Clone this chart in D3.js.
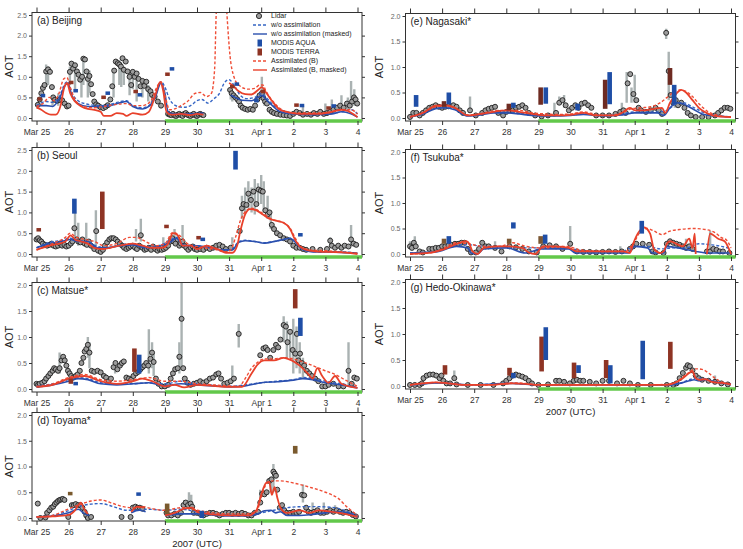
<!DOCTYPE html>
<html>
<head>
<meta charset="utf-8">
<script src="https://cdn.jsdelivr.net/npm/d3@7"></script>
<style>
  body { margin: 0; background: #fff; }
  svg { font-family: "Liberation Sans", Arial, sans-serif; }
</style>
</head>
<body>
<svg id="chart" width="743" height="549"></svg>
<script>
// time is in days since 2007-03-25 00 UTC

const DAY_LABELS = ['Mar 25', '26', '27', '28', '29', '30', '31', 'Apr 1', '2', '3', '4']

// (a) Beijing
const beijingLidar = [[0.04,0.32],[0.1,0.45],[0.15,0.6],[0.2,0.73],[0.25,0.8],[0.3,1.13],[0.36,1.18],[0.42,1.12],[0.48,0.75],[0.52,0.5],[0.57,0.44],[0.65,0.42],[0.72,0.44],[0.8,0.43],[0.88,0.35],[0.95,0.28],[1.0,0.3],[1.04,1.12],[1.09,1.32],[1.14,1.2],[1.2,1.28],[1.26,1.13],[1.31,1.05],[1.36,0.93],[1.42,1.0],[1.46,1.44],[1.51,1.42],[1.56,1.13],[1.6,0.95],[1.65,1.02],[1.7,0.82],[1.75,0.58],[1.8,0.4],[1.86,0.33],[1.92,0.3],[2.0,0.26],[2.08,0.24],[2.15,0.27],[2.22,0.31],[2.3,0.45],[2.36,0.77],[2.42,1.15],[2.47,1.37],[2.53,1.33],[2.58,1.3],[2.63,1.25],[2.68,1.45],[2.72,1.17],[2.78,1.37],[2.84,1.13],[2.9,1.0],[2.95,0.8],[3.0,1.12],[3.06,1.0],[3.12,1.08],[3.18,0.95],[3.24,0.77],[3.3,0.9],[3.36,0.78],[3.42,0.88],[3.48,0.7],[3.55,0.65],[3.6,0.56],[3.68,0.52],[3.78,0.4],[3.88,0.3],
  [4.1,0.1],[4.15,0.08],[4.2,0.07],[4.25,0.1],[4.3,0.06],[4.35,0.05],[4.4,0.08],[4.45,0.1],[4.5,0.07],[4.55,0.05],[4.6,0.1],[4.65,0.12],[4.7,0.08],[4.75,0.06],[4.8,0.05],[4.85,0.08],[4.9,0.1],[4.95,0.06],[5.0,0.05],[5.05,0.08],[5.1,0.1],[5.15,0.08],[5.2,0.07],
  [6.03,0.68],[6.08,0.6],[6.14,0.55],[6.2,0.5],[6.26,0.45],[6.31,0.4],[6.36,0.3],[6.42,0.25],[6.5,0.22],[6.58,0.2],[6.66,0.22],[6.74,0.2],[6.81,0.3],[6.88,0.45],[6.95,0.55],[7.02,0.6],[7.07,0.48],[7.12,0.4],[7.18,0.35],[7.26,0.2],[7.33,0.15],[7.4,0.12],[7.49,0.1],[7.6,0.08],[7.7,0.07],[7.8,0.06],[7.9,0.05],
  [8.0,0.1],[8.1,0.15],[8.2,0.12],[8.3,0.08],[8.43,0.1],[8.55,0.08],[8.64,0.12],[8.75,0.1],[8.84,0.15],[8.95,0.1],[9.05,0.12],[9.15,0.15],[9.25,0.2],[9.36,0.25],[9.46,0.3],[9.57,0.25],[9.67,0.35],[9.76,0.3],[9.83,0.4],[9.89,0.5],[9.94,0.45],[9.99,0.35]]
const beijingLidarErr = [[0.3,0.75,1.3],[0.36,0.8,1.25],[0.5,0.3,0.55],[0.68,0.3,0.6],[1.04,0.8,1.25],[1.2,0.7,1.3],[1.4,0.5,1.0],[1.46,0.8,1.45],[1.6,0.5,1.1],[1.65,0.6,1.15],[2.4,0.5,1.2],[2.58,0.8,1.4],[2.64,0.75,1.35],[2.72,0.8,1.25],[2.9,0.55,1.1],[3.0,0.7,1.15],[3.12,0.4,1.0],[3.3,0.5,0.9],[3.48,0.4,0.8],[3.6,0.3,0.6],[6.05,0.45,0.75],[6.1,0.4,0.65],[7.02,0.45,1.0],[7.1,0.3,0.6],[8.3,0.1,0.3],[9.0,0.12,0.35],[9.2,0.15,0.45],[9.5,0.2,0.55],[9.7,0.2,0.5],[9.8,0.25,0.9],[9.9,0.3,0.7]]
const beijingWo = [[0,0.3],[0.3,0.4],[0.5,0.38],[0.7,0.5],[0.9,0.85],[0.98,0.88],[1.1,0.6],[1.25,0.45],[1.5,0.35],[2.0,0.3],[2.3,0.33],[2.6,0.4],[2.8,0.42],[3.0,0.3],[3.3,0.25],[3.5,0.3],[3.7,0.55],[3.88,0.88],[4.0,0.75],[4.15,0.45],[4.4,0.28],[4.6,0.26],[4.8,0.3],[5.0,0.42],[5.15,0.45],[5.35,0.36],[5.5,0.45],[5.7,0.6],[5.85,0.85],[6.0,0.93],[6.15,0.8],[6.35,0.55],[6.55,0.47],[6.8,0.5],[7.0,0.6],[7.15,0.5],[7.4,0.3],[7.7,0.17],[8.0,0.12],[8.5,0.1],[9.0,0.1],[9.5,0.15],[9.8,0.2],[10,0.1]]
const beijingWoMasked = [[0,0.3],[0.3,0.3],[0.5,0.28],[0.7,0.45],[0.9,0.8],[0.98,0.85],[1.1,0.55],[1.3,0.35],[1.6,0.28],[2.0,0.28],[2.3,0.3],[2.6,0.37],[2.8,0.4],[3.0,0.28],[3.3,0.22],[3.5,0.28],[3.7,0.5],[3.88,0.85],[4.0,0.6],[4.1,0.15],[4.3,0.1],[4.8,0.1],[5.2,0.12],[5.25,null],[6.05,0.55],[6.2,0.5],[6.4,0.43],[6.7,0.42],[6.9,0.5],[7.02,0.55],[7.15,0.45],[7.35,0.3],[7.6,0.15],[8.0,0.1],[8.6,0.08],[9.2,0.1],[9.5,0.15],[9.8,0.1],[10,0.02]]
const beijingAssim = [[0,0.28],[0.2,0.35],[0.4,0.5],[0.55,0.42],[0.7,0.6],[0.85,0.95],[0.95,0.98],[1.05,0.75],[1.2,0.45],[1.45,0.28],[1.8,0.25],[2.1,0.28],[2.5,0.33],[2.8,0.35],[3.0,0.3],[3.3,0.3],[3.55,0.4],[3.75,0.75],[3.88,0.88],[4.0,0.55],[4.15,0.2],[4.3,0.22],[4.5,0.3],[4.7,0.4],[4.95,0.6],[5.1,0.62],[5.3,0.52],[5.45,0.6],[5.55,1.2],[5.6,2.55],[5.75,3.6],[5.85,3.6],[5.93,2.55],[6.03,1.5],[6.15,1.0],[6.3,0.8],[6.6,0.7],[6.8,0.72],[6.95,0.8],[7.05,0.8],[7.15,0.65],[7.35,0.42],[7.6,0.22],[7.9,0.13],[8.5,0.12],[9.0,0.12],[9.5,0.2],[9.8,0.2],[10,0.1]]
const beijingAssimMasked = [[0,0.25],[0.15,0.2],[0.3,0.12],[0.45,0.08],[0.6,0.08],[0.75,0.3],[0.85,0.7],[0.95,0.85],[1.05,0.6],[1.2,0.4],[1.4,0.28],[1.6,0.22],[1.8,0.2],[2.0,0.15],[2.1,0.05],[2.3,0.05],[2.5,0.12],[2.7,0.1],[2.8,0.05],[3.0,0.12],[3.3,0.08],[3.5,0.15],[3.7,0.55],[3.85,0.87],[3.95,0.65],[4.05,0.15],[4.2,0.08],[4.5,0.1],[4.8,0.07],[5.0,0.1],[5.2,0.08],[5.25,null],[6.0,0.85],[6.1,0.8],[6.3,0.65],[6.5,0.58],[6.7,0.57],[6.9,0.68],[7.02,0.75],[7.15,0.62],[7.35,0.4],[7.55,0.22],[7.8,0.15],[8.2,0.1],[8.8,0.1],[9.2,0.15],[9.5,0.2],[9.7,0.17],[9.9,0.08],[10,0.02]]
const beijingTerra = [[0.1,0.42,0.5],[1.08,0.82,0.9],[2.09,0.46,0.54],[3.09,0.6,0.68],[4.08,1.02,1.1],[6.1,0.72,0.8],[7.05,0.6,0.68],[8.1,0.27,0.33],[9.1,0.2,0.26]]
const beijingAqua = [[0.2,0.5,0.58],[1.22,0.62,0.7],[2.22,0.56,0.64],[3.22,0.52,0.58],[4.22,1.15,1.22],[6.24,0.78,0.85],[6.85,0.38,0.45],[8.27,0.26,0.33],[9.26,0.25,0.32]]

// (b) Seoul
const seoulLidar = [[0,0.35],[0.05,0.38],[0.1,0.33],[0.15,0.3],[0.2,0.25],[0.27,0.22],[0.33,0.2],[0.4,0.22],[0.47,0.25],[0.53,0.2],[0.6,0.18],[0.67,0.2],[0.73,0.25],[0.8,0.2],[0.87,0.22],[0.93,0.18],[1.0,0.2],[1.07,0.25],[1.12,0.3],[1.18,0.62],[1.25,0.35],[1.3,0.3],[1.37,0.28],[1.43,0.35],[1.5,0.25],[1.57,0.22],[1.63,0.3],[1.7,0.2],[1.8,0.12],[1.86,0.55],[1.92,0.08],[2.0,0.05],[2.07,0.1],[2.13,0.2],[2.2,0.28],[2.27,0.35],[2.33,0.38],[2.4,0.38],[2.47,0.35],[2.53,0.3],[2.6,0.25],[2.67,0.2],[2.73,0.15],[2.8,0.12],[2.87,0.15],[2.93,0.18],[3.0,0.2],[3.07,0.15],[3.13,0.12],[3.2,0.2],[3.25,0.45],[3.3,0.15],[3.37,0.1],[3.43,0.12],[3.5,0.15],[3.57,0.1],[3.63,0.18],[3.7,0.12],[3.77,0.08],[3.83,0.12],[3.9,0.1],[3.97,0.12],[4.03,0.15],[4.1,0.2],[4.17,0.3],[4.23,0.38],[4.28,0.3],[4.33,0.25],[4.4,0.35],[4.45,0.2],[4.5,0.25],[4.55,0.3],[4.6,0.2],[4.67,0.15],[4.73,0.1],[4.8,0.15],[4.87,0.18],[4.93,0.12],[5.0,0.1],[5.1,0.12],[5.2,0.1],[5.3,0.15],[5.4,0.12],[5.5,0.15],[5.6,0.2],[5.7,0.22],[5.8,0.18],[5.9,0.12],[6.05,0.15],
  [6.33,0.55],[6.4,1.1],[6.45,1.2],[6.54,1.18],[6.6,1.45],[6.68,1.3],[6.76,1.5],[6.85,1.2],[6.92,1.55],[6.99,1.52],[7.05,1.5],[7.13,1.05],[7.2,0.95],[7.26,1.0],[7.33,0.7],[7.4,0.6],[7.49,0.5],[7.59,0.45],[7.7,0.38],[7.8,0.35],[7.9,0.3],[8.0,0.2],[8.1,0.15],[8.2,0.15],[8.3,0.12],[8.4,0.1],[8.6,0.12],[8.84,0.1],[9.05,0.12],[9.15,0.32],[9.2,0.2],[9.3,0.15],[9.4,0.2],[9.5,0.15],[9.6,0.2],[9.72,0.18],[9.8,0.35],[9.88,0.25],[9.96,0.22]]
const seoulLidarErr = [[1.2,0.4,1.0],[1.3,0.2,0.75],[1.55,0.2,0.75],[1.85,0.2,1.05],[3.1,0.3,0.6],[3.25,0.3,0.85],[3.95,0.1,0.4],[4.3,0.3,0.6],[4.55,0.2,0.7],[6.1,0.2,0.4],[6.4,0.85,1.4],[6.5,1.0,1.6],[6.6,1.1,1.75],[6.7,1.0,1.6],[6.8,0.95,1.8],[6.9,1.2,1.7],[7.0,1.2,1.9],[7.08,1.0,1.75],[7.2,0.85,1.4],[7.3,0.6,1.0],[9.15,0.2,0.4],[9.8,0.2,0.7]]
const seoulWo = [[0,0.15],[0.4,0.28],[0.8,0.33],[1.05,0.38],[1.3,0.33],[1.6,0.3],[1.9,0.18],[2.2,0.15],[2.6,0.22],[3.0,0.25],[3.4,0.18],[3.8,0.2],[4.2,0.35],[4.35,0.4],[4.6,0.22],[5.0,0.2],[5.4,0.15],[5.8,0.1],[6.1,0.12],[6.3,0.3],[6.5,0.33],[6.8,0.3],[7.1,0.27],[7.4,0.3],[7.7,0.35],[7.9,0.38],[8.1,0.25],[8.3,0.1],[8.6,0.06],[9.0,0.05],[9.5,0.05],[10,0.02]]
const seoulWoMasked = [[0,0.15],[0.4,0.25],[0.8,0.3],[1.05,0.35],[1.3,0.3],[1.6,0.3],[1.9,0.15],[2.2,0.15],[2.6,0.2],[3.0,0.22],[3.4,0.15],[3.8,0.18],[4.2,0.3],[4.35,0.38],[4.6,0.2],[5.0,0.2],[5.4,0.15],[5.8,0.1],[6.1,0.1],[6.3,0.28],[6.5,0.32],[6.8,0.3],[7.1,0.26],[7.4,0.3],[7.7,0.35],[7.9,0.38],[8.1,0.25],[8.3,0.1],[8.6,0.05],[9.0,0.05],[9.5,0.04],[10,0.02]]
const seoulAssim = [[0,0.1],[0.5,0.25],[0.9,0.4],[1.05,0.5],[1.2,0.42],[1.5,0.35],[1.8,0.3],[2.1,0.2],[2.5,0.25],[2.9,0.4],[3.1,0.4],[3.4,0.3],[3.7,0.2],[4.0,0.25],[4.25,0.52],[4.45,0.45],[4.7,0.25],[5.0,0.18],[5.5,0.12],[5.9,0.05],[6.05,0.1],[6.2,0.4],[6.35,0.8],[6.55,1.05],[6.7,1.1],[6.9,1.05],[7.1,0.95],[7.3,0.85],[7.5,0.8],[7.7,0.75],[7.9,0.62],[8.05,0.4],[8.2,0.2],[8.5,0.1],[9.0,0.08],[9.5,0.05],[10,0.02]]
const seoulAssimMasked = [[0,0.1],[0.4,0.2],[0.9,0.3],[1.06,0.45],[1.2,0.35],[1.4,0.3],[1.6,0.25],[1.8,0.15],[2.1,0.12],[2.3,0.15],[2.7,0.22],[3.0,0.25],[3.3,0.2],[3.6,0.15],[3.9,0.15],[4.1,0.25],[4.25,0.5],[4.4,0.45],[4.55,0.2],[4.8,0.2],[5.0,0.12],[5.3,0.2],[5.5,0.15],[5.7,0.1],[5.9,0.03],[6.1,0.03],[6.25,0.2],[6.35,0.55],[6.5,0.95],[6.65,1.08],[6.85,1.05],[7.05,0.95],[7.25,0.85],[7.45,0.8],[7.7,0.75],[7.9,0.6],[8.05,0.35],[8.2,0.18],[8.5,0.08],[9.0,0.05],[9.5,0.04],[10,0.0]]
const seoulTerra = [[0.07,0.54,0.6],[2.05,0.6,1.5],[4.05,0.62,0.68],[5.05,0.35,0.41]]
const seoulAqua = [[1.18,0.97,1.33],[5.18,0.31,0.37],[6.2,2.03,2.48],[8.22,0.42,0.47]]

// (c) Matsue
const matsueLidar = [[0,0.1],[0.05,0.08],[0.1,0.1],[0.18,0.12],[0.25,0.15],[0.3,0.2],[0.37,0.25],[0.43,0.3],[0.5,0.35],[0.55,0.4],[0.6,0.38],[0.67,0.35],[0.72,0.4],[0.78,0.55],[0.83,0.62],[0.88,0.55],[0.93,0.45],[0.98,0.35],[1.03,0.3],[1.08,0.25],[1.15,0.22],[1.22,0.25],[1.28,0.28],[1.35,0.35],[1.4,0.5],[1.46,0.6],[1.5,0.72],[1.55,0.77],[1.6,0.85],[1.65,0.7],[1.72,0.35],[1.8,0.33],[1.9,0.35],[2.0,0.32],[2.1,0.25],[2.17,0.22],[2.25,0.15],[2.32,0.2],[2.4,0.42],[2.46,0.5],[2.52,0.38],[2.6,0.45],[2.66,0.5],[2.72,0.53],[2.8,0.22],[2.88,0.2],[2.95,0.18],[3.02,0.25],[3.1,0.3],[3.17,0.33],[3.24,0.38],[3.3,0.42],[3.36,0.45],[3.42,0.5],[3.48,0.45],[3.55,0.58],[3.6,0.7],[3.65,0.52],[3.72,0.2],[3.8,0.1],[3.9,0.05],[4.0,0.05],[4.1,0.08],[4.18,0.2],[4.25,0.3],[4.32,0.38],[4.4,0.4],[4.45,0.62],[4.52,1.35],[4.57,0.4],[4.62,0.2],[4.7,0.12],[4.8,0.08],[4.9,0.1],[5.0,0.12],[5.1,0.15],[5.2,0.12],[5.3,0.15],[5.4,0.2],[5.5,0.22],[5.6,0.28],[5.67,0.3],[5.75,0.2],[5.85,0.1],[5.95,0.12],[6.05,0.15],[6.15,0.2],[6.3,1.06],
  [6.97,0.65],[7.07,0.78],[7.14,0.8],[7.2,0.75],[7.28,0.6],[7.38,0.75],[7.46,0.85],[7.53,0.8],[7.6,0.95],[7.7,1.23],[7.77,1.2],[7.82,0.9],[7.9,1.1],[7.98,0.75],[8.06,0.68],[8.11,1.06],[8.16,0.55],[8.21,0.68],[8.27,0.5],[8.34,0.45],[8.42,0.35],[8.5,0.3],[8.58,0.25],[8.68,0.2],[8.78,0.15],[8.9,0.05],[9.0,0.05],[9.1,0.08],[9.25,0.1],[9.41,0.05],[9.56,0.05],[9.72,0.35],[9.82,0.1],[9.9,0.22],[9.98,0.2]]
const matsueLidarErr = [[0.72,0.3,0.7],[1.6,0.6,1.0],[1.65,0.4,0.9],[2.45,0.3,0.55],[3.5,0.3,1.15],[3.6,0.4,0.9],[3.65,0.25,0.7],[4.45,0.3,0.9],[4.52,0.4,2.05],[6.1,0.2,0.45],[6.3,0.8,1.25],[7.7,0.9,1.4],[7.8,0.6,1.3],[7.9,0.6,1.1],[8.0,0.3,1.35],[8.1,0.4,1.2],[8.2,0.3,0.9],[8.3,0.2,0.6],[9.72,0.05,0.9]]
const matsueWo = [[0,0.05],[0.5,0.1],[1.0,0.18],[1.3,0.22],[1.6,0.2],[2.0,0.12],[2.5,0.1],[3.0,0.1],[3.5,0.12],[4.0,0.1],[4.5,0.15],[5.0,0.1],[5.5,0.07],[6.0,0.05],[6.5,0.08],[7.0,0.12],[7.5,0.15],[8.0,0.18],[8.3,0.22],[8.6,0.2],[9.0,0.15],[9.5,0.1],[10,0.03]]
const matsueWoMasked = [[0,0.04],[0.5,0.08],[1.0,0.15],[1.3,0.2],[1.6,0.18],[2.0,0.1],[2.5,0.08],[3.0,0.1],[3.5,0.12],[4.0,0.06],[4.5,0.1],[5.0,0.08],[5.5,0.06],[6.0,0.04],[6.5,0.06],[7.0,0.12],[7.5,0.14],[8.0,0.17],[8.3,0.2],[8.6,0.18],[9.0,0.12],[9.5,0.08],[10,0.02]]
const matsueAssim = [[0,0.05],[0.5,0.1],[1.0,0.22],[1.5,0.28],[2.0,0.18],[2.5,0.15],[3.0,0.18],[3.5,0.22],[4.0,0.15],[4.5,0.15],[5.0,0.1],[5.5,0.08],[6.0,0.06],[6.3,0.05],[6.5,0.2],[6.7,0.4],[6.9,0.52],[7.1,0.58],[7.4,0.58],[7.7,0.6],[8.0,0.58],[8.3,0.52],[8.6,0.45],[9.0,0.35],[9.3,0.28],[9.6,0.18],[10,0.05]]
const matsueAssimMasked = [[0,0.04],[0.5,0.08],[0.8,0.15],[1.0,0.2],[1.5,0.25],[2.0,0.15],[2.5,0.1],[3.0,0.15],[3.3,0.2],[3.6,0.15],[4.0,0.05],[4.3,0.08],[4.6,0.03],[5.0,0.08],[5.5,0.06],[6.0,0.04],[6.4,0.04],[6.7,0.3],[6.9,0.48],[7.1,0.55],[7.4,0.55],[7.7,0.6],[7.95,0.55],[8.2,0.45],[8.45,0.3],[8.6,0.2],[8.75,0.4],[8.9,0.25],[9.1,0.12],[9.3,0.25],[9.5,0.1],[10,0.02]]
const matsueTerra = [[1.07,0.1,0.2],[3.05,0.33,0.78],[8.06,1.55,1.92]]
const matsueAqua = [[1.22,0.07,0.13],[3.2,0.3,0.66],[8.22,1.02,1.37]]

// (d) Toyama
const toyamaLidar = [[0.04,0.28],[0.12,0.0],[0.28,0.01],[0.33,0.1],[0.4,0.15],[0.46,0.2],[0.52,0.22],[0.57,0.27],[0.62,0.3],[0.67,0.33],[0.72,0.35],[0.77,0.36],[0.82,0.37],[0.87,0.35],[0.99,0.02],[1.1,0.25],[1.16,0.25],[1.22,0.27],[1.3,0.25],[1.37,0.25],[1.43,0.2],[1.5,0.12],[1.55,0.05],[1.6,0.0],[1.7,0.02],[2.65,0.02],[2.93,0.02],[3.0,0.2],[3.08,0.22],[3.15,0.2],[3.22,0.2],[3.3,0.18],
  [4.05,0.1],[4.1,0.05],[4.2,0.05],[4.3,0.08],[4.4,0.05],[4.5,0.1],[4.58,0.25],[4.65,0.3],[4.72,0.25],[4.8,0.28],[4.85,0.22],[4.9,0.1],[5.0,0.1],[5.1,0.08],[5.2,0.05],[5.3,0.08],[5.4,0.1],[5.5,0.1],[5.6,0.08],[5.7,0.05],[5.8,0.08],[5.9,0.1],[6.0,0.1],[6.1,0.08],[6.2,0.1],[6.3,0.08],[6.4,0.1],[6.5,0.08],[6.6,0.05],[6.7,0.05],[6.8,0.1],[6.9,0.12],[6.97,0.3],[7.03,0.47],[7.1,0.46],[7.17,0.5],[7.25,0.72],[7.32,0.75],[7.38,0.9],[7.42,0.86],[7.46,0.82],[7.5,0.55],[7.58,0.2],[7.65,0.25],[7.72,0.15],[7.8,0.1],[7.9,0.1],[8.0,0.12],[8.1,0.1],[8.18,0.12],[8.27,0.45],[8.34,0.44],[8.4,0.2],[8.47,0.12],[8.55,0.1],[8.65,0.12],[8.75,0.15],[8.85,0.1],[8.95,0.1],[9.05,0.12],[9.15,0.15],[9.25,0.12],[9.35,0.15],[9.45,0.12],[9.55,0.1],[9.65,0.12],[9.75,0.1],[9.85,0.06],[9.95,0.03]]
const toyamaLidarErr = [[4.6,0.15,0.35],[4.75,0.15,0.5],[4.82,0.2,0.45],[6.97,0.3,0.55],[7.3,0.5,0.8],[7.38,0.5,1.05],[8.3,0.3,0.65],[8.6,0.1,0.3],[8.95,0.1,0.3],[9.3,0.1,0.25]]
const toyamaWo = [[0,0.02],[0.5,0.05],[0.9,0.12],[1.3,0.22],[1.7,0.27],[2.0,0.28],[2.4,0.22],[2.8,0.15],[3.1,0.15],[3.5,0.17],[4.0,0.15],[4.5,0.17],[5.0,0.12],[5.5,0.08],[6.0,0.06],[6.5,0.05],[7.0,0.1],[7.4,0.15],[7.8,0.2],[8.3,0.22],[8.8,0.22],[9.3,0.2],[9.7,0.12],[10,0.05]]
const toyamaWoMasked = [[0,0.02],[0.5,0.04],[1.0,0.1],[1.3,0.17],[1.5,0.08],[1.65,0.05],[1.7,null],[2.95,0.1],[3.2,0.15],[3.4,0.12],[3.5,null],[4.0,0.05],[4.5,0.08],[5.0,0.08],[5.5,0.06],[6.0,0.04],[6.5,0.04],[6.9,0.08],[7.1,0.14],[7.3,0.15],[7.45,0.1],[7.6,0.12],[7.8,0.05],[8.2,0.05],[8.6,0.07],[9.0,0.1],[9.4,0.12],[9.7,0.1],[10,0.02]]
const toyamaAssim = [[0,0.02],[0.5,0.05],[0.9,0.15],[1.3,0.25],[1.7,0.33],[2.0,0.35],[2.3,0.3],[2.7,0.22],[3.0,0.2],[3.3,0.22],[3.6,0.18],[4.0,0.15],[4.5,0.2],[5.0,0.15],[5.5,0.1],[6.0,0.08],[6.5,0.08],[6.85,0.12],[7.0,0.4],[7.15,0.65],[7.35,0.72],[7.6,0.72],[8.0,0.68],[8.5,0.6],[9.0,0.5],[9.4,0.38],[9.7,0.2],[10,0.05]]
const toyamaAssimMasked = [[0,0.02],[0.5,0.03],[1.0,0.06],[1.2,0.15],[1.38,0.3],[1.48,0.18],[1.6,0.08],[1.7,null],[2.95,0.12],[3.15,0.22],[3.35,0.2],[3.45,null],[4.0,0.05],[4.3,0.1],[4.6,0.18],[4.85,0.2],[5.0,0.12],[5.5,0.07],[6.0,0.05],[6.6,0.05],[6.85,0.15],[7.0,0.45],[7.15,0.68],[7.25,0.7],[7.33,0.45],[7.42,0.6],[7.5,0.4],[7.6,0.2],[7.8,0.1],[8.2,0.15],[8.5,0.1],[8.8,0.15],[9.2,0.12],[9.6,0.08],[10,0.02]]
const toyamaTerra = [[1.05,0.44,0.5],[4.07,0.08,0.28],[8.06,1.25,1.4]]
const toyamaAqua = [[3.18,0.43,0.46],[5.15,0.0,0.14]]

// (e) Nagasaki
const nagasakiLidar = [[0,0.02],[0.1,0.1],[0.2,0.1],[0.3,0.05],[0.4,0.1],[0.5,0.15],[0.6,0.2],[0.7,0.22],[0.8,0.25],[0.9,0.22],[1.0,0.2],[1.1,0.22],[1.2,0.23],[1.35,0.25],[1.45,0.22],[1.55,0.15],[1.65,0.1],[1.87,0.15],[2.05,0.05],[2.25,0.1],[2.35,0.15],[2.45,0.18],[2.55,0.2],[2.65,0.22],[2.75,0.1],[2.9,0.05],[3.0,0.12],[3.1,0.15],[3.2,0.15],[3.3,0.2],[3.4,0.22],[3.5,0.25],[3.6,0.2],[3.7,0.1],[3.9,0.05],[4.1,0.03],[4.3,0.05],[4.55,0.1],[4.65,0.3],[4.75,0.35],[4.85,0.25],[4.95,0.15],[5.05,0.2],[5.15,0.25],[5.25,0.2],[5.35,0.28],[5.45,0.3],[5.55,0.25],[5.65,0.2],[5.8,0.05],[6.0,0.05],[6.2,0.05],[6.4,0.08],[6.55,0.12],[6.65,0.15],[6.72,0.1],[6.78,0.68],[6.86,0.86],[6.96,0.47],[7.05,0.35],[7.12,0.2],[7.2,0.15],[7.35,0.12],[7.5,0.15],[7.65,0.2],[7.75,0.15],[7.85,0.08],[7.98,1.67],[8.06,0.92],[8.12,0.45],[8.2,0.3],[8.28,0.35],[8.35,0.25],[8.45,0.3],[8.55,0.2],[8.65,0.1],[8.75,0.05],[8.9,0.02],[9.1,0.02],[9.3,0.02],[9.5,0.05],[9.6,0.1],[9.7,0.15],[9.8,0.2],[9.9,0.2],[9.98,0.18]]
const nagasakiLidarErr = [[1.87,0.1,0.42],[4.5,0.02,0.3],[4.65,0.3,0.42],[4.8,0.2,0.45],[6.6,0.05,0.3],[6.75,0.3,0.9],[6.9,0.3,0.6],[7.0,0.3,0.85],[7.98,1.55,1.75],[8.06,0.35,1.3],[8.25,0.2,0.45]]
const nagasakiWo = [[0,0.02],[0.4,0.1],[0.8,0.2],[1.1,0.2],[1.4,0.18],[1.8,0.05],[2.2,0.08],[2.6,0.12],[3.0,0.12],[3.4,0.1],[3.8,0.06],[4.4,0.05],[5.0,0.06],[5.4,0.08],[6.0,0.05],[6.6,0.08],[7.0,0.12],[7.4,0.12],[7.7,0.12],[8.0,0.15],[8.3,0.28],[8.5,0.3],[8.8,0.22],[9.1,0.12],[9.5,0.06],[10,0.02]]
const nagasakiWoMasked = [[0,0.02],[0.4,0.08],[0.8,0.18],[1.1,0.2],[1.4,0.16],[1.8,0.04],[2.2,0.06],[2.6,0.1],[3.0,0.1],[3.4,0.08],[3.8,0.05],[4.4,0.04],[5.0,0.05],[5.4,0.07],[6.0,0.04],[6.6,0.06],[7.0,0.1],[7.4,0.1],[7.7,0.1],[7.9,0.05],[8.1,0.2],[8.3,0.3],[8.5,0.28],[8.8,0.18],[9.1,0.08],[9.5,0.04],[10,0.02]]
const nagasakiAssim = [[0,0.02],[0.4,0.1],[0.8,0.22],[1.1,0.24],[1.4,0.2],[1.8,0.06],[2.2,0.08],[2.6,0.14],[3.0,0.15],[3.4,0.15],[3.8,0.1],[4.2,0.08],[4.6,0.07],[5.0,0.08],[5.4,0.12],[5.8,0.07],[6.2,0.05],[6.6,0.1],[6.9,0.18],[7.2,0.2],[7.5,0.22],[7.8,0.3],[8.0,0.4],[8.2,0.5],[8.4,0.55],[8.6,0.52],[8.8,0.42],[9.0,0.28],[9.3,0.12],[9.6,0.05],[10,0.02]]
const nagasakiAssimMasked = [[0,0.02],[0.4,0.1],[0.8,0.24],[1.1,0.25],[1.4,0.2],[1.8,0.05],[2.4,0.1],[3.0,0.15],[3.4,0.12],[3.8,0.08],[4.2,0.05],[4.6,0.05],[5.0,0.06],[5.4,0.1],[5.8,0.05],[6.4,0.05],[6.6,0.1],[6.85,0.2],[7.0,0.15],[7.3,0.15],[7.6,0.18],[7.85,0.2],[7.95,0.1],[8.1,0.3],[8.3,0.48],[8.45,0.55],[8.6,0.5],[8.8,0.35],[9.0,0.2],[9.3,0.08],[9.6,0.03],[10,0.02]]
const nagasakiTerra = [[1.06,0.22,0.33],[3.08,0.15,0.28],[4.07,0.26,0.6],[6.08,0.18,0.75],[8.1,0.65,0.98]]
const nagasakiAqua = [[0.19,0.22,0.45],[1.21,0.27,0.5],[3.22,0.2,0.3],[4.23,0.28,0.6],[5.22,0.15,0.28],[6.22,0.27,0.9],[8.23,0.27,0.65]]

// (f) Tsukuba
const tsukubaLidar = [[0.0,0.15],[0.06,0.12],[0.12,0.22],[0.18,0.15],[0.3,0.05],[0.4,0.03],[0.6,0.1],[0.7,0.1],[0.8,0.12],[0.9,0.12],[1.0,0.15],[1.1,0.15],[1.2,0.17],[1.3,0.18],[1.4,0.2],[1.5,0.2],[1.6,0.22],[1.7,0.22],[1.8,0.1],[1.9,0.03],[2.05,0.03],[2.15,0.1],[2.25,0.22],[2.35,0.15],[2.45,0.15],[2.65,0.12],[2.85,0.05],[3.1,0.15],[3.3,0.13],[3.5,0.1],[3.7,0.05],[3.95,0.03],[4.15,0.15],[4.35,0.17],[4.55,0.15],[4.75,0.1],[4.99,0.2],[5.2,0.05],[5.4,0.04],[5.6,0.04],[5.8,0.03],[6.0,0.04],[6.2,0.05],[6.4,0.04],[6.6,0.05],[6.85,0.1],[6.95,0.15],[7.05,0.2],[7.25,0.2],[7.45,0.18],[7.55,0.05],[7.65,0.03],[7.9,0.02],[8.0,0.2],[8.1,0.25],[8.2,0.22],[8.3,0.2],[8.4,0.18],[8.5,0.15],[8.6,0.12],[8.7,0.15],[8.8,0.1],[9.25,0.05],[9.35,0.05],[9.45,0.1],[9.55,0.08],[9.65,0.05],[9.75,0.05],[9.95,0.02]]
const tsukubaLidarErr = [[0.0,0.1,0.25],[0.15,0.15,0.35],[2.65,0.12,0.25],[4.99,0.15,0.55],[6.55,0.02,0.15],[8.6,0.1,0.3],[9.35,0.05,0.45]]
const tsukubaWo = [[0,0.02],[0.8,0.05],[1.45,0.18],[1.85,0.18],[2.3,0.15],[2.9,0.15],[3.4,0.12],[3.95,0.12],[4.5,0.12],[5.0,0.1],[5.6,0.05],[6.6,0.05],[7.0,0.15],[7.4,0.15],[7.8,0.1],[8.2,0.12],[8.6,0.12],[9.0,0.2],[9.4,0.18],[9.7,0.15],[10,0.1]]
const tsukubaWoMasked = [[0,0.02],[0.8,0.04],[1.45,0.15],[1.8,0.12],[1.9,0.02],[2.1,0.0],[2.3,0.1],[3.0,0.12],[3.6,0.02],[4.1,0.1],[4.95,0.1],[5.15,0.02],[6.8,0.02],[7.0,0.15],[7.4,0.12],[7.55,0.02],[7.9,0.02],[8.0,0.15],[8.5,0.1],[8.9,0.05],[9.3,0.02],[10,0.02]]
const tsukubaAssim = [[0,0.0],[0.6,0.02],[1.0,0.1],[1.45,0.22],[1.8,0.2],[2.3,0.15],[2.8,0.15],[3.2,0.22],[3.6,0.15],[4.1,0.12],[4.9,0.15],[5.3,0.08],[6.0,0.05],[6.7,0.05],[6.95,0.2],[7.2,0.45],[7.4,0.5],[7.6,0.45],[7.85,0.38],[8.1,0.45],[8.4,0.48],[8.8,0.5],[9.2,0.48],[9.5,0.42],[9.7,0.32],[9.85,0.28],[10,0.12]]
const tsukubaAssimMasked = [[0,0.0],[0.6,0.02],[1.0,0.08],[1.45,0.2],[1.75,0.25],[1.85,0.2],[1.95,0.05],[2.1,0.0],[2.3,0.12],[2.7,0.15],[3.1,0.15],[3.5,0.12],[3.7,0.03],[3.9,0.0],[4.15,0.15],[4.55,0.15],[4.95,0.12],[5.2,0.05],[6.0,0.05],[6.65,0.05],[6.85,0.02],[6.95,0.2],[7.15,0.45],[7.3,0.52],[7.48,0.4],[7.6,0.1],[7.8,0.02],[7.9,0.05],[8.0,0.2],[8.1,0.25],[8.3,0.2],[8.5,0.15],[8.7,0.3],[8.8,0.12],[8.87,0.4],[8.9,0.0],[8.95,null],[9.25,0.0],[9.35,0.4],[9.6,0.3],[9.8,0.25],[10,0.0]]
const tsukubaTerra = [[1.06,0.2,0.3],[3.09,0.2,0.3],[4.07,0.2,0.35]]
const tsukubaAqua = [[1.21,0.2,0.35],[3.22,0.5,0.62],[4.21,0.2,0.38],[7.22,0.4,0.65]]

// (g) Hedo-Okinawa
const hedoLidar = [[0,0.02],[0.15,0.02],[0.3,0.02],[0.37,0.05],[0.42,0.15],[0.52,0.2],[0.62,0.22],[0.72,0.22],[0.82,0.2],[0.92,0.15],[0.98,0.2],[1.04,0.1],[1.14,0.05],[1.25,0.05],[1.38,0.15],[1.45,0.03],[1.8,0.02],[2.2,0.02],[2.6,0.02],[2.9,0.05],[3.0,0.1],[3.1,0.15],[3.2,0.2],[3.3,0.22],[3.4,0.2],[3.5,0.18],[3.6,0.15],[3.7,0.1],[3.8,0.05],[4.0,0.02],[4.3,0.03],[4.55,0.1],[4.65,0.1],[4.8,0.08],[4.98,0.05],[5.1,0.1],[5.2,0.12],[5.3,0.1],[5.4,0.1],[5.6,0.08],[5.8,0.05],[6.0,0.1],[6.2,0.1],[6.45,0.05],[6.65,0.1],[6.85,0.05],[7.1,0.02],[7.5,0.02],[8.0,0.02],[8.2,0.02],[8.3,0.05],[8.4,0.15],[8.5,0.25],[8.6,0.35],[8.65,0.4],[8.72,0.38],[8.8,0.3],[8.9,0.2],[9.0,0.15],[9.1,0.12],[9.3,0.1],[9.5,0.08],[9.7,0.05],[9.9,0.03]]
const hedoLidarErr = [[1.38,0.1,0.3],[9.5,0.05,0.2]]
const hedoWo = [[0,0.02],[0.4,0.04],[0.8,0.06],[1.2,0.05],[1.8,0.02],[3.2,0.05],[4.0,0.02],[8.0,0.02],[8.4,0.05],[8.7,0.12],[8.9,0.15],[9.1,0.15],[9.4,0.1],[9.7,0.06],[10,0.04]]
const hedoWoMasked = [[0,0.02],[0.4,0.04],[0.8,0.06],[1.2,0.05],[1.8,0.02],[3.2,0.05],[4.0,0.02],[8.0,0.02],[8.4,0.05],[8.7,0.1],[8.85,0.12],[9.0,0.1],[9.2,0.12],[9.5,0.08],[10,0.03]]
const hedoAssim = [[0,0.02],[0.4,0.05],[0.8,0.07],[1.2,0.05],[1.8,0.02],[2.5,0.02],[3.2,0.06],[3.6,0.05],[4.0,0.02],[5.0,0.02],[6.0,0.02],[7.0,0.02],[8.0,0.03],[8.3,0.08],[8.6,0.22],[8.9,0.33],[9.1,0.32],[9.3,0.25],[9.5,0.15],[9.7,0.08],[10,0.04]]
const hedoAssimMasked = [[0,0.02],[0.4,0.05],[0.8,0.07],[1.2,0.05],[1.8,0.02],[2.5,0.02],[3.2,0.05],[3.6,0.04],[4.0,0.02],[5.0,0.02],[6.0,0.02],[7.0,0.02],[8.0,0.02],[8.2,0.05],[8.5,0.15],[8.7,0.25],[8.8,0.28],[8.9,0.15],[9.0,0.12],[9.2,0.13],[9.4,0.08],[9.7,0.06],[10,0.03]]
const hedoTerra = [[1.09,0.22,0.4],[3.1,0.2,0.35],[4.1,0.28,0.95],[5.11,0.15,0.45],[6.11,0.15,0.5],[8.11,0.33,0.85]]
const hedoAqua = [[3.22,0.15,0.25],[4.23,0.5,1.13],[5.25,0.25,0.4],[6.24,0.05,0.4],[7.25,0.13,0.87]]

// layout

const COLS = [{ x0: 36.5, x1: 357.5, label: 9 }, { x0: 410, x1: 731, label: 379 }]
const BLUE = '#2a4fae', BLUE_D = '#3565c4', RED = '#e8412b', RED_D = '#ef4d36'
const AQUA = '#1f4ea6', GREEN = '#62c84a'

const panels = [
  { title: '(a) Beijing', col: 0, yb: 118, yt: 15, ymax: 2.5, terra: '#8e3424', legend: true,
    lidar: beijingLidar, err: beijingLidarErr, wo: beijingWo, woM: beijingWoMasked, as: beijingAssim, asM: beijingAssimMasked, terraBars: beijingTerra, aquaBars: beijingAqua },
  { title: '(b) Seoul', col: 0, yb: 254, yt: 150, ymax: 2.5, terra: '#8e3424',
    lidar: seoulLidar, err: seoulLidarErr, wo: seoulWo, woM: seoulWoMasked, as: seoulAssim, asM: seoulAssimMasked, terraBars: seoulTerra, aquaBars: seoulAqua },
  { title: '(c) Matsue*', col: 0, yb: 389, yt: 285, ymax: 2.0, terra: '#8e3424',
    lidar: matsueLidar, err: matsueLidarErr, wo: matsueWo, woM: matsueWoMasked, as: matsueAssim, asM: matsueAssimMasked, terraBars: matsueTerra, aquaBars: matsueAqua },
  { title: '(d) Toyama*', col: 0, yb: 518, yt: 415, ymax: 2.0, terra: '#7a5a2e', xlabel: true,
    lidar: toyamaLidar, err: toyamaLidarErr, wo: toyamaWo, woM: toyamaWoMasked, as: toyamaAssim, asM: toyamaAssimMasked, terraBars: toyamaTerra, aquaBars: toyamaAqua },
  { title: '(e) Nagasaki*', col: 1, yb: 118, yt: 16, ymax: 2.0, terra: '#6e2b22',
    lidar: nagasakiLidar, err: nagasakiLidarErr, wo: nagasakiWo, woM: nagasakiWoMasked, as: nagasakiAssim, asM: nagasakiAssimMasked, terraBars: nagasakiTerra, aquaBars: nagasakiAqua },
  { title: '(f) Tsukuba*', col: 1, yb: 254, yt: 152, ymax: 2.0, terra: '#7b5733',
    lidar: tsukubaLidar, err: tsukubaLidarErr, wo: tsukubaWo, woM: tsukubaWoMasked, as: tsukubaAssim, asM: tsukubaAssimMasked, terraBars: tsukubaTerra, aquaBars: tsukubaAqua },
  { title: '(g) Hedo-Okinawa*', col: 1, yb: 386, yt: 282, ymax: 2.0, terra: '#8e3424', xlabel: true,
    lidar: hedoLidar, err: hedoLidarErr, wo: hedoWo, woM: hedoWoMasked, as: hedoAssim, asM: hedoAssimMasked, terraBars: hedoTerra, aquaBars: hedoAqua }
]

const svg = d3.select('#chart')
const defs = svg.append('defs')

panels.forEach((p, i) => drawPanel(p, i))

function drawPanel(p, i) {
  const col = COLS[p.col]
  const x = d3.scaleLinear().domain([0, 10]).range([col.x0, col.x1])
  const y = d3.scaleLinear().domain([0, p.ymax]).range([p.yb, p.yt])
  const fx0 = col.x0 - 4.5, fx1 = col.x1 + 4.5
  const fy0 = p.yt - 2.5, fy1 = p.yb + 3

  const clipId = 'clip' + i
  defs.append('clipPath').attr('id', clipId)
    .append('rect').attr('x', fx0).attr('y', fy0).attr('width', fx1 - fx0).attr('height', fy1 - fy0)

  const g = svg.append('g')
  const plot = g.append('g').attr('clip-path', 'url(#' + clipId + ')')

  // lidar error bars
  plot.append('g').selectAll('line').data(p.err).join('line')
    .attr('x1', d => x(d[0])).attr('x2', d => x(d[0]))
    .attr('y1', d => y(d[1])).attr('y2', d => y(d[2]))
    .attr('stroke', '#aab2b2').attr('stroke-width', 2.4)

  // lidar points
  plot.append('g').selectAll('circle').data(p.lidar).join('circle')
    .attr('cx', d => x(d[0])).attr('cy', d => y(d[1])).attr('r', 2.5)
    .attr('fill', '#9c9c9c').attr('stroke', '#1e1e1e').attr('stroke-width', 0.9)

  // model lines
  const line = d3.line()
    .defined(d => d[1] != null)
    .x(d => x(d[0])).y(d => y(d[1]))
    .curve(d3.curveMonotoneX)
  const series = [
    { d: p.wo, c: BLUE_D, w: 1.4, dash: '3,2' },
    { d: p.woM, c: BLUE, w: 1.6 },
    { d: p.as, c: RED_D, w: 1.4, dash: '3,2' },
    { d: p.asM, c: RED, w: 1.8 }
  ]
  series.forEach(s => {
    plot.append('path').attr('d', line(s.d))
      .attr('fill', 'none').attr('stroke', s.c).attr('stroke-width', s.w)
      .attr('stroke-dasharray', s.dash || null)
  })

  // MODIS retrievals
  const bar = (sel, color) => sel
    .attr('x', d => x(d[0]) - 2.3).attr('width', 4.6)
    .attr('y', d => Math.min(y(d[2]), y(d[1]) - 3.5))
    .attr('height', d => Math.max(y(d[1]) - y(d[2]), 3.5))
    .attr('fill', color)
  plot.append('g').selectAll('rect').data(p.terraBars).join('rect').call(bar, p.terra)
  plot.append('g').selectAll('rect').data(p.aquaBars).join('rect').call(bar, AQUA)

  // frame
  g.append('rect').attr('x', fx0).attr('y', fy0).attr('width', fx1 - fx0).attr('height', fy1 - fy0)
    .attr('fill', 'none').attr('stroke', '#333').attr('stroke-width', 1)

  // green bar: Mar 29 onward
  g.append('line').attr('x1', x(4)).attr('x2', fx1).attr('y1', fy1).attr('y2', fy1)
    .attr('stroke', GREEN).attr('stroke-width', 3.5)

  // axes
  const yTicks = d3.range(0, p.ymax + 0.01, 0.5)
  const axisL = g.append('g').attr('transform', 'translate(' + fx0 + ',0)')
    .call(d3.axisLeft(y).tickValues(yTicks).tickFormat(d3.format('.1f')).tickSize(3).tickPadding(2))
  const axisR = g.append('g').attr('transform', 'translate(' + fx1 + ',0)')
    .call(d3.axisRight(y).tickValues(yTicks).tickFormat('').tickSize(3))
  const axisB = g.append('g').attr('transform', 'translate(0,' + fy1 + ')')
    .call(d3.axisBottom(x).tickValues(d3.range(0, 11)).tickFormat(d => DAY_LABELS[d]).tickSize(4).tickPadding(4))
  const axisT = g.append('g').attr('transform', 'translate(0,' + fy0 + ')')
    .call(d3.axisTop(x).tickValues(d3.range(0, 11)).tickFormat('').tickSize(5))
  ;[axisL, axisR, axisB, axisT].forEach(a => {
    a.select('.domain').remove()
    a.selectAll('.tick line').attr('stroke', '#333')
  })
  axisL.selectAll('text').attr('font-size', 7).attr('fill', '#666').attr('font-family', null)
  axisB.selectAll('text').attr('font-size', 8.5).attr('fill', '#333').attr('font-family', null)

  // titles
  g.append('text').attr('x', col.x0 + 0.5).attr('y', fy0 + 11)
    .attr('font-size', 10).attr('fill', '#222').text(p.title)
  g.append('text')
    .attr('transform', 'translate(' + col.label + ',' + ((p.yt + p.yb) / 2) + ') rotate(-90)')
    .attr('text-anchor', 'middle').attr('dy', '0.35em')
    .attr('font-size', 11).attr('fill', '#222').text('AOT')
  if (p.xlabel) {
    g.append('text').attr('x', (col.x0 + col.x1) / 2).attr('y', fy1 + 26)
      .attr('text-anchor', 'middle').attr('font-size', 9.5).attr('fill', '#222').text('2007 (UTC)')
  }
  if (p.legend) drawLegend(g)
}

function drawLegend(g) {
  const lx = 253, tx = 271, y0 = 16, dy = 9
  const items = [
    { label: 'Lidar', kind: 'circle' },
    { label: 'w/o assimilation', kind: 'line', c: BLUE_D, dash: '3,2' },
    { label: 'w/o assimilation (masked)', kind: 'line', c: BLUE },
    { label: 'MODIS AQUA', kind: 'rect', c: AQUA },
    { label: 'MODIS TERRA', kind: 'rect', c: '#8e3424' },
    { label: 'Assimilated (B)', kind: 'line', c: RED_D, dash: '3,2' },
    { label: 'Assimilated (B, masked)', kind: 'line', c: RED }
  ]
  items.forEach((it, k) => {
    const yy = y0 + k * dy
    if (it.kind === 'circle') {
      g.append('circle').attr('cx', lx + 6).attr('cy', yy).attr('r', 2.6)
        .attr('fill', '#9c9c9c').attr('stroke', '#1e1e1e').attr('stroke-width', 0.9)
    } else if (it.kind === 'rect') {
      g.append('rect').attr('x', lx + 4.5).attr('y', yy - 3.5).attr('width', 4.5).attr('height', 7).attr('fill', it.c)
    } else {
      g.append('line').attr('x1', lx).attr('x2', lx + 14).attr('y1', yy).attr('y2', yy)
        .attr('stroke', it.c).attr('stroke-width', 1.4).attr('stroke-dasharray', it.dash || null)
    }
    g.append('text').attr('x', tx).attr('y', yy).attr('dy', '0.35em')
      .attr('font-size', 7).attr('fill', '#222').text(it.label)
  })
}
</script>
</body>
</html>
